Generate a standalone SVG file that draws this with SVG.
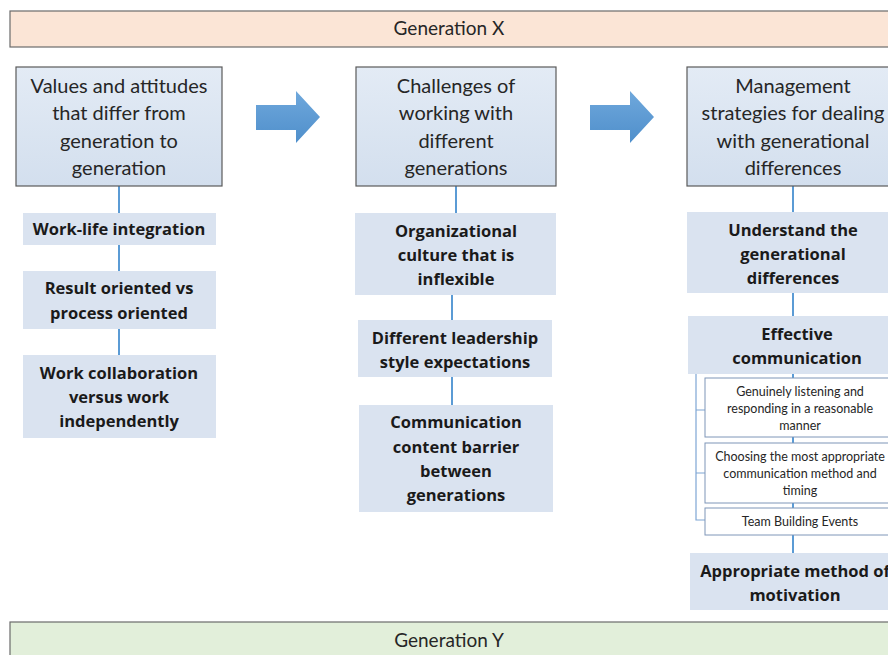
<svg xmlns="http://www.w3.org/2000/svg" width="888" height="655" viewBox="0 0 888 655">
  <defs>
    <linearGradient id="headFill" x1="0" y1="0" x2="0" y2="1">
      <stop offset="0" stop-color="#e3ebf5"/>
      <stop offset="1" stop-color="#d3dfee"/>
    </linearGradient>
    <linearGradient id="arrowFill" x1="0" y1="0" x2="0" y2="1">
      <stop offset="0" stop-color="#6fa8dc"/>
      <stop offset="1" stop-color="#4f8fcb"/>
    </linearGradient>
  </defs>
  <style>
    .band-x { fill: #fbe5d6; stroke: #6b6b6b; stroke-width: 1.2; }
    .band-y { fill: #e2efda; stroke: #6b6b6b; stroke-width: 1.2; }
    .band-t { font-family: Lato, "Open Sans", sans-serif; font-size: 19px; fill: #262626; text-anchor: middle; }
    .head { fill: url(#headFill); stroke: #5a5a5a; stroke-width: 1.2; }
    .head-t { font-family: Lato, "Open Sans", sans-serif; font-size: 20px; fill: #262626; text-anchor: middle; }
    .item { fill: #dae3f0; }
    .item-t { font-family: "Open Sans", Lato, sans-serif; font-weight: bold; font-size: 16.5px; fill: #1a1a1a; text-anchor: middle; }
    .sub { fill: #ffffff; stroke: #7f96b8; stroke-width: 1; }
    .sub-t { font-family: Lato, "Open Sans", sans-serif; font-size: 12.5px; fill: #262626; text-anchor: middle; }
    .link { stroke: #5b9bd5; stroke-width: 2; fill: none; }
    .bracket { stroke: #7ea6d4; stroke-width: 1.2; fill: none; }
    .arrow { fill: url(#arrowFill); }
  </style>

  <rect width="888" height="655" fill="#ffffff"/>

  <!-- generation bands -->
  <g id="generation-x">
    <rect class="band-x" x="10" y="11" width="890" height="36"/>
    <text class="band-t" x="449" y="35">Generation X</text>
  </g>
  <g id="generation-y">
    <rect class="band-y" x="10" y="622" width="890" height="40"/>
    <text class="band-t" x="449" y="647">Generation Y</text>
  </g>

  <!-- connectors -->
  <g id="connectors">
    <line class="link" x1="119" y1="186" x2="119" y2="213"/>
    <line class="link" x1="119" y1="245" x2="119" y2="271"/>
    <line class="link" x1="119" y1="329" x2="119" y2="355"/>

    <line class="link" x1="456" y1="186" x2="456" y2="213"/>
    <line class="link" x1="452" y1="295" x2="452" y2="320"/>
    <line class="link" x1="452" y1="377" x2="452" y2="405"/>

    <line class="link" x1="793" y1="186" x2="793" y2="212"/>
    <line class="link" x1="793" y1="293" x2="793" y2="316"/>
    <line class="link" x1="793" y1="374" x2="793" y2="378"/>
    <line class="link" x1="793" y1="437" x2="793" y2="443"/>
    <line class="link" x1="793" y1="503" x2="793" y2="508"/>
    <line class="link" x1="793" y1="535" x2="793" y2="553"/>
    <path class="bracket" d="M696 374 V520 H705 M696 410 H705 M696 473 H705"/>

    <polygon class="arrow" points="256,105 296,105 296,91 320,117 296,143 296,130 256,130"/>
    <polygon class="arrow" points="590,105 630,105 630,91 654,117 630,143 630,130 590,130"/>
  </g>

  <!-- column 1 -->
  <g id="values-attitudes">
    <rect class="head" x="16" y="67" width="206" height="119"/>
    <text class="head-t" x="119" y="93">Values and attitudes</text>
    <text class="head-t" x="119" y="120">that differ from</text>
    <text class="head-t" x="119" y="148">generation to</text>
    <text class="head-t" x="119" y="175">generation</text>
  </g>
  <g id="work-life">
    <rect class="item" x="23" y="213" width="193" height="32"/>
    <text class="item-t" x="119" y="235">Work-life integration</text>
  </g>
  <g id="result-process">
    <rect class="item" x="23" y="271" width="193" height="58"/>
    <text class="item-t" x="119" y="294">Result oriented vs</text>
    <text class="item-t" x="119" y="319">process oriented</text>
  </g>
  <g id="collaboration">
    <rect class="item" x="23" y="355" width="193" height="83"/>
    <text class="item-t" x="119" y="379">Work collaboration</text>
    <text class="item-t" x="119" y="403">versus work</text>
    <text class="item-t" x="119" y="427">independently</text>
  </g>

  <!-- column 2 -->
  <g id="challenges">
    <rect class="head" x="356" y="67" width="200" height="119"/>
    <text class="head-t" x="456" y="93">Challenges of</text>
    <text class="head-t" x="456" y="120">working with</text>
    <text class="head-t" x="456" y="148">different</text>
    <text class="head-t" x="456" y="175">generations</text>
  </g>
  <g id="org-culture">
    <rect class="item" x="355" y="213" width="201" height="82"/>
    <text class="item-t" x="456" y="237">Organizational</text>
    <text class="item-t" x="456" y="261">culture that is</text>
    <text class="item-t" x="456" y="285">inflexible</text>
  </g>
  <g id="leadership">
    <rect class="item" x="358" y="320" width="194" height="57"/>
    <text class="item-t" x="455" y="344">Different leadership</text>
    <text class="item-t" x="455" y="368">style expectations</text>
  </g>
  <g id="comm-barrier">
    <rect class="item" x="359" y="405" width="194" height="107"/>
    <text class="item-t" x="456" y="428">Communication</text>
    <text class="item-t" x="456" y="453">content barrier</text>
    <text class="item-t" x="456" y="477">between</text>
    <text class="item-t" x="456" y="501">generations</text>
  </g>

  <!-- column 3 -->
  <g id="strategies">
    <rect class="head" x="687" y="67" width="220" height="119"/>
    <text class="head-t" x="793" y="93">Management</text>
    <text class="head-t" x="793" y="120">strategies for dealing</text>
    <text class="head-t" x="793" y="148">with generational</text>
    <text class="head-t" x="793" y="175">differences</text>
  </g>
  <g id="understand">
    <rect class="item" x="687" y="212" width="210" height="81"/>
    <text class="item-t" x="793" y="236">Understand the</text>
    <text class="item-t" x="793" y="260">generational</text>
    <text class="item-t" x="793" y="284">differences</text>
  </g>
  <g id="effective-comm">
    <rect class="item" x="688" y="316" width="210" height="58"/>
    <text class="item-t" x="797" y="340">Effective</text>
    <text class="item-t" x="797" y="364">communication</text>
  </g>
  <g id="listening">
    <rect class="sub" x="705" y="378" width="200" height="59"/>
    <text class="sub-t" x="800" y="396">Genuinely listening and</text>
    <text class="sub-t" x="800" y="413">responding in a reasonable</text>
    <text class="sub-t" x="800" y="430">manner</text>
  </g>
  <g id="method-timing">
    <rect class="sub" x="705" y="443" width="200" height="60"/>
    <text class="sub-t" x="800" y="461">Choosing the most appropriate</text>
    <text class="sub-t" x="800" y="478">communication method and</text>
    <text class="sub-t" x="800" y="495">timing</text>
  </g>
  <g id="team-building">
    <rect class="sub" x="705" y="508" width="200" height="27"/>
    <text class="sub-t" x="800" y="526">Team Building Events</text>
  </g>
  <g id="motivation">
    <rect class="item" x="690" y="553" width="210" height="57"/>
    <text class="item-t" x="795" y="577">Appropriate method of</text>
    <text class="item-t" x="795" y="601">motivation</text>
  </g>
</svg>
